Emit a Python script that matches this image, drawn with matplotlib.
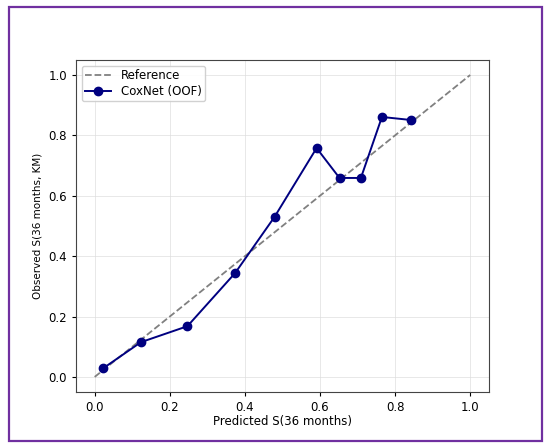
import matplotlib
matplotlib.use("Agg")
import matplotlib.pyplot as plt
from matplotlib.patches import Rectangle

# calibration bins
pred = [0.022, 0.123, 0.247, 0.374, 0.479, 0.591, 0.652, 0.709, 0.765, 0.842]
obs = [0.028, 0.115, 0.168, 0.344, 0.530, 0.758, 0.659, 0.659, 0.861, 0.851]
ref = [0.0, 1.0]

plt.rcParams['font.family'] = 'DejaVu Sans'
fig = plt.figure(figsize=(5.5, 4.47), dpi=100)
ax = fig.add_axes([0.138, 0.123, 0.751, 0.743])

ax.plot(ref, ref, '--', color='gray', lw=1.3, label='Reference')
ax.plot(pred, obs, '-o', color='#000080', lw=1.4, ms=6, label='CoxNet (OOF)')

ax.set_xlabel('Predicted S(36 months)', fontsize=8.5, labelpad=1)
ax.set_ylabel('Observed S(36 months, KM)', fontsize=7.5)
ax.tick_params(labelsize=8.5, length=3)
ax.grid(True, color='#dddddd', lw=0.6, alpha=0.8)
ax.legend(loc='upper left', fontsize=8.5, framealpha=0.9,
          labelspacing=0.2, borderpad=0.3, handlelength=2.2)
for s in ax.spines.values():
    s.set_color('#444444')

# purple frame around the figure
fig.patches.append(Rectangle((9 / 550, 6 / 447), 533 / 550, 434 / 447,
                             transform=fig.transFigure, fill=False,
                             edgecolor='#7030a0', lw=1.6))

fig.savefig('out.png', dpi=100)
